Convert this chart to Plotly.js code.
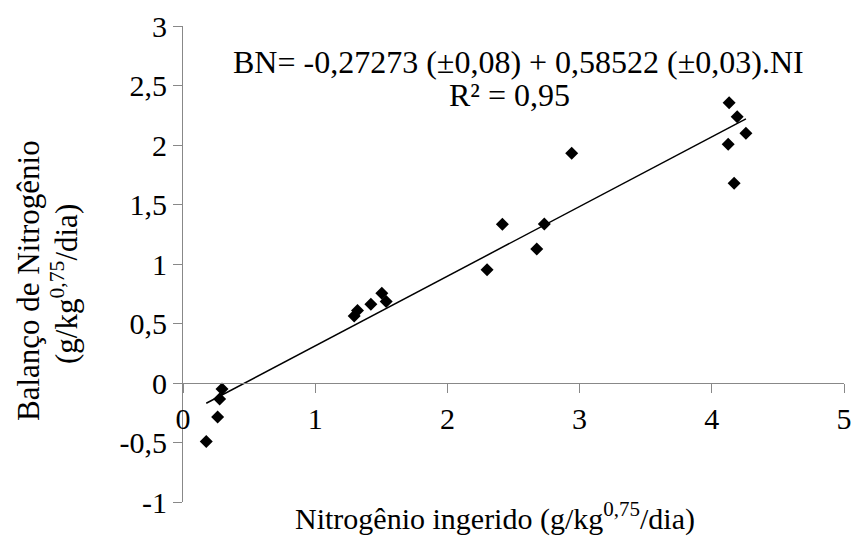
<!DOCTYPE html>
<html>
<head>
<meta charset="utf-8">
<script src="https://cdn.plot.ly/plotly-3.0.1.min.js"></script>
<style>html,body{margin:0;padding:0;background:#fff;}#chart{width:853px;height:540px;}</style>
</head>
<body>
<div id="chart"></div>
<script>
// Observed points: nitrogen intake (x) vs nitrogen balance (y)
const nIngerido = [0.176, 0.262, 0.277, 0.295, 1.295, 1.320, 1.421, 1.504, 1.537, 2.300, 2.416, 2.676, 2.733, 2.940, 4.124, 4.131, 4.169, 4.192, 4.258];
const nBalanco  = [-0.491, -0.286, -0.135, -0.051, 0.564, 0.609, 0.662, 0.755, 0.684, 0.951, 1.334, 1.127, 1.337, 1.930, 2.006, 2.355, 1.678, 2.238, 2.098];
// Linear trend line end points
const trendX = [0.176, 4.258];
const trendY = [-0.170, 2.219];
// Tick labels
const xTickVals = [0, 1, 2, 3, 4, 5];
const xTickText = ['0', '1', '2', '3', '4', '5'];
const yTickVals = [-1, -0.5, 0, 0.5, 1, 1.5, 2, 2.5, 3];
const yTickText = ['-1', '-0,5', '0', '0,5', '1', '1,5', '2', '2,5', '3'];
const equationLine = 'BN= -0,27273 (±0,08) + 0,58522 (±0,03).NI';
const r2Line = 'R² = 0,95';
const xTitle = 'Nitrogênio ingerido (g/kg<sup>0,75</sup>/dia)';
const yTitleLine1 = 'Balanço de Nitrogênio';
const yTitleLine2 = '(g/kg<sup>0,75</sup>/dia)';

const FONT = 'Liberation Serif, Times New Roman, serif';
const AX = '#888888';
const L = 183, T = 26, W = 661, H = 476;
const px = v => (v - L) / W;
const py = v => (T + H - v) / H;

const traces = [
  {
    x: trendX, y: trendY, type: 'scatter', mode: 'lines',
    line: {color: '#000000', width: 1.5}, hoverinfo: 'skip', showlegend: false
  },
  {
    x: nIngerido, y: nBalanco, type: 'scatter', mode: 'markers',
    marker: {symbol: 'diamond', size: 10, color: '#000000'}, showlegend: false
  }
];

function ann(text, cx, cy, size, angle) {
  return {
    text: text, xref: 'paper', yref: 'paper', x: px(cx), y: py(cy),
    xanchor: 'center', yanchor: 'middle', showarrow: false, textangle: angle || 0,
    font: {family: FONT, size: size, color: '#000000'}
  };
}

const layout = {
  width: 853, height: 540,
  margin: {l: L, r: 853 - L - W, t: T, b: 540 - T - H},
  paper_bgcolor: '#ffffff', plot_bgcolor: '#ffffff',
  font: {family: FONT, size: 30, color: '#000000'},
  showlegend: false,
  xaxis: {
    range: [0, 5], anchor: 'free', position: 0.25,
    tickvals: xTickVals, ticktext: xTickText,
    showline: true, linecolor: AX, linewidth: 1,
    ticks: 'outside', ticklen: 9, tickcolor: AX, tickwidth: 1,
    showgrid: false, zeroline: false,
    tickfont: {family: FONT, size: 30, color: '#000000'}
  },
  yaxis: {
    range: [-1, 3],
    tickvals: yTickVals, ticktext: yTickText,
    showline: true, linecolor: AX, linewidth: 1,
    ticks: 'outside', ticklen: 9, tickcolor: AX, tickwidth: 1,
    showgrid: false, zeroline: false,
    tickfont: {family: FONT, size: 30, color: '#000000'}
  },
  annotations: [
    ann(equationLine, 518, 62, 32),
    ann(r2Line, 509, 95, 32),
    ann(xTitle, 495, 516, 30),
    ann(yTitleLine1, 28, 281, 31, -90),
    ann(yTitleLine2, 64, 284, 31, -90)
  ]
};

Plotly.newPlot('chart', traces, layout, {displayModeBar: false, staticPlot: true});
</script>
</body>
</html>
